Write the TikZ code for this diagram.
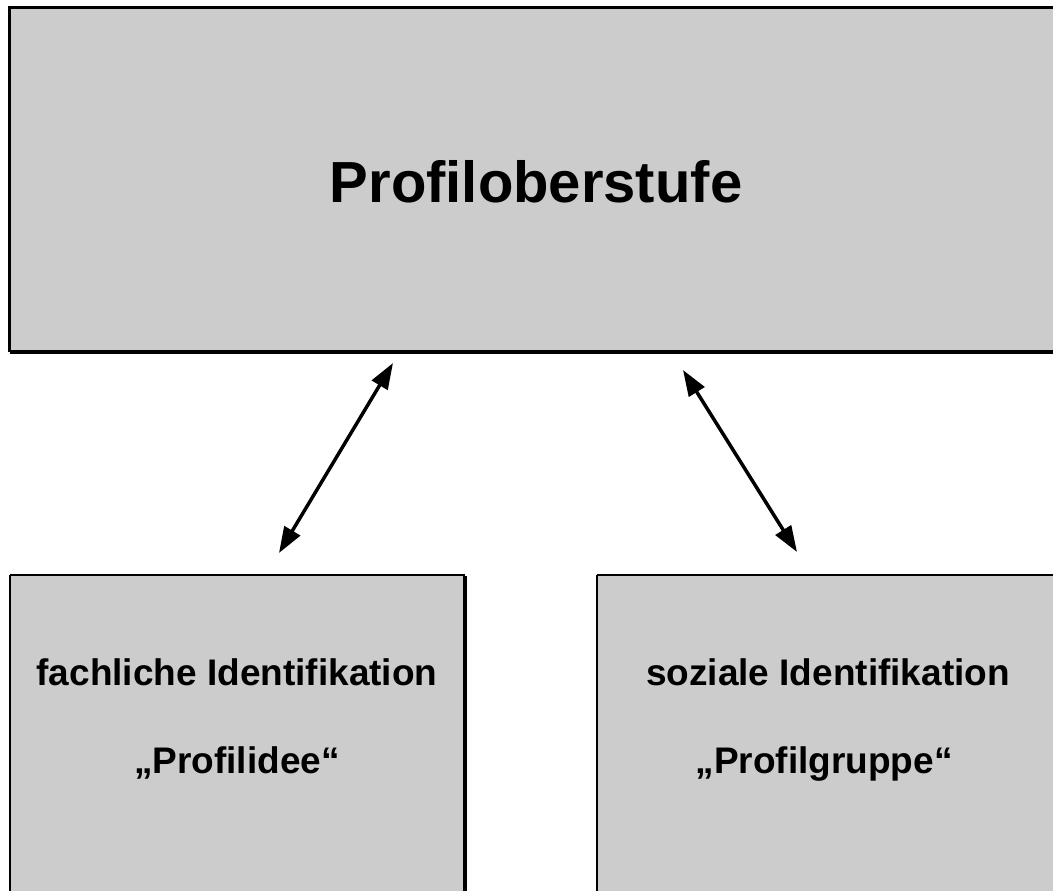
\documentclass[tikz,border=0pt]{standalone}
\usepackage{fontspec}
\setmainfont{Liberation Sans}
\usetikzlibrary{arrows.meta}
\begin{document}
\begin{tikzpicture}[x=1pt,y=-1pt,
  box/.style={fill=black!20, draw=none, rectangle, inner sep=0pt},
  big/.style={font=\fontsize{58}{60}\selectfont\bfseries, anchor=base, inner sep=0pt},
  mid/.style={font=\fontsize{37}{40}\selectfont\bfseries, anchor=base, inner sep=0pt},
  conn/.style={line width=3.5pt, {Triangle[length=26pt,width=18pt]}-{Triangle[length=26pt,width=18pt]}}
]
\useasboundingbox (0,0) rectangle (1053,891);
\clip (0,0) rectangle (1053,891);
% top box
\node[box, minimum width=1052pt, minimum height=344pt] (top) at (536,180) {};
\draw[line width=3pt] (top.south west) -- (top.north west) -- (top.north east);
\draw[line width=4pt] (top.south west) -- (top.south east);
\node[big] (ttop) at (536,202) {Profiloberstufe};
% bottom left box
\node[box, minimum width=455pt, minimum height=330pt] (left) at (237.5,740.5) {};
\draw[line width=2.5pt] (left.south west) -- (left.north west);
\draw[line width=2pt] (left.north west) -- (left.north east);
\draw[line width=4pt] ([yshift=-1pt]left.north east) -- (left.south east);
\node[mid] (l1) at (237,685) {fachliche Identifikation};
\node[mid] (l2) at (237,773) {„Profilidee“};
% bottom right box
\node[box, minimum width=462pt, minimum height=330pt] (right) at (828,740.5) {};
\draw[line width=2.5pt] (right.south west) -- (right.north west);
\draw[line width=2pt] (right.north west) -- (right.north east);
\node[mid] (r1) at (828,685) {soziale Identifikation};
\node[mid] (r2) at (824,773) {„Profilgruppe“};
% arrows
\coordinate (a1) at (393,363);
\coordinate (a2) at (279,553);
\coordinate (b1) at (683,370);
\coordinate (b2) at (797,552);
\draw[conn] (a2) -- (a1);
\draw[conn] (b1) -- (b2);
\end{tikzpicture}
\end{document}
